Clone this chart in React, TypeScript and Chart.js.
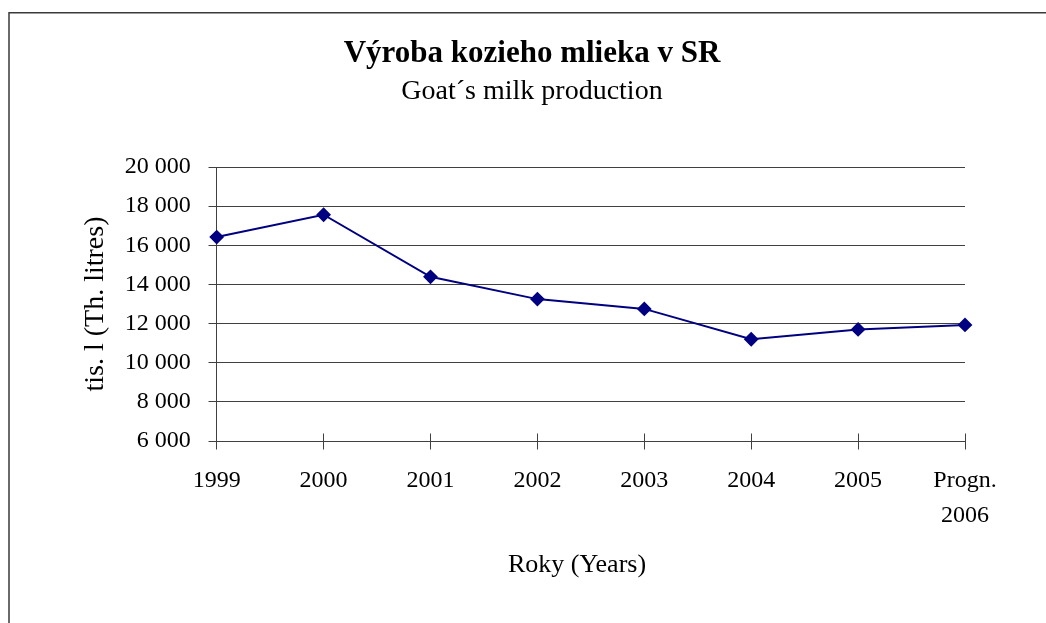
import React, { useEffect, useRef } from "react";
import { Chart, registerables } from "chart.js";

Chart.register(...registerables);

const categories: (string | string[])[] = ["1999", "2000", "2001", "2002", "2003", "2004", "2005", ["Progn.", "2006"]];
const production: number[] = [16420, 17560, 14390, 13250, 12750, 11200, 11700, 11930];
const yMin = 6000;
const yMax = 20000;
const yStep = 2000;

const titleText = "Výroba kozieho mlieka v SR";
const subtitleText = "Goat´s milk production";
const xTitle = "Roky (Years)";
const yTitle = "tis. l (Th. litres)";

const FONT = "'Times New Roman', 'Liberation Serif', serif";
const AXIS_COLOR = "#404040";

const align = (p: number) => Math.round(p - 0.5) + 0.5;

const decorations = {
  id: "decorations",
  beforeDraw(chart: any) {
    const ctx = chart.ctx;
    ctx.save();
    ctx.strokeStyle = "#3a3a3a";
    ctx.lineWidth = 1.5;
    ctx.beginPath();
    ctx.moveTo(9, 623);
    ctx.lineTo(9, 12.75);
    ctx.lineTo(1046, 12.75);
    ctx.stroke();
    ctx.restore();
  },
  afterDraw(chart: any) {
    const ctx = chart.ctx;
    const xs = chart.scales.x;
    const ys = chart.scales.y;
    ctx.save();
    ctx.strokeStyle = AXIS_COLOR;
    ctx.lineWidth = 1;
    ctx.beginPath();
    const axisY = align(ys.bottom);
    const axisX = align(xs.left);
    for (let i = 0; i < xs.ticks.length; i++) {
      const px = align(xs.getPixelForTick(i));
      ctx.moveTo(px, axisY - 8);
      ctx.lineTo(px, axisY + 8);
    }
    for (let i = 0; i < ys.ticks.length; i++) {
      const py = align(ys.getPixelForTick(i));
      ctx.moveTo(axisX - 8, py);
      ctx.lineTo(axisX, py);
    }
    ctx.stroke();
    // x axis title
    ctx.fillStyle = "#000";
    ctx.font = `normal 26px ${FONT}`;
    ctx.textAlign = "center";
    ctx.textBaseline = "middle";
    ctx.fillText(xTitle, 577, 565);
    ctx.restore();
  },
};

export default function App() {
  const ref = useRef<HTMLCanvasElement | null>(null);

  useEffect(() => {
    if (!ref.current) return;
    const chart = new Chart(ref.current, {
      type: "line",
      data: {
        labels: categories,
        datasets: [
          {
            label: "Goat's milk",
            data: production,
            borderColor: "#000080",
            backgroundColor: "#000080",
            borderWidth: 2,
            pointStyle: "rectRot",
            pointRadius: 6,
            pointHoverRadius: 6,
            tension: 0,
          },
        ],
      },
      options: {
        responsive: false,
        animation: false,
        layout: { padding: { left: 99, right: 81, top: 0, bottom: 0 } },
        plugins: {
          legend: { display: false },
          tooltip: { enabled: false },
          title: {
            display: true,
            text: titleText,
            color: "#000",
            font: { family: FONT, size: 31, weight: "bold", lineHeight: 1.2 },
            padding: { top: 35.4, bottom: 2.2 },
          },
          subtitle: {
            display: true,
            text: subtitleText,
            color: "#000",
            font: { family: FONT, size: 28, weight: "normal", lineHeight: 1.2 },
            padding: { top: 0, bottom: 58.6 },
          },
        },
        scales: {
          x: {
            type: "category",
            offset: false,
            grid: { display: false, drawTicks: false },
            border: { display: true, color: AXIS_COLOR, width: 1 },
            ticks: {
              color: "#000",
              padding: 22.6,
              maxRotation: 0,
              autoSkip: false,
              font: { family: FONT, size: 24, lineHeight: 1.45 },
            },
            title: { display: false, text: xTitle },
            afterFit(scale: any) {
              scale.height = 182;
            },
          },
          y: {
            min: yMin,
            max: yMax,
            grid: { display: true, color: AXIS_COLOR, lineWidth: 1, drawTicks: false },
            border: { display: true, color: AXIS_COLOR, width: 1 },
            ticks: {
              stepSize: yStep,
              color: "#000",
              padding: 26,
              font: { family: FONT, size: 24, lineHeight: 1.2 },
              callback: (v: any) => {
                const n = Number(v);
                return n.toString().replace(/\B(?=(\d{3})+(?!\d))/g, " ");
              },
            },
            title: {
              display: true,
              text: yTitle,
              color: "#000",
              font: { family: FONT, size: 28, lineHeight: 1.2 },
              padding: { top: -20.3, bottom: 0 },
            },
            afterFit(scale: any) {
              scale.width = 117.7;
            },
          },
        },
      },
      plugins: [decorations],
    });
    return () => chart.destroy();
  }, []);

  return (
    <div style={{ position: "absolute", left: 0, top: 0, width: 1046, height: 623, background: "#fff" }}>
      <canvas ref={ref} width={1046} height={623} style={{ display: "block" }} />
    </div>
  );
}
